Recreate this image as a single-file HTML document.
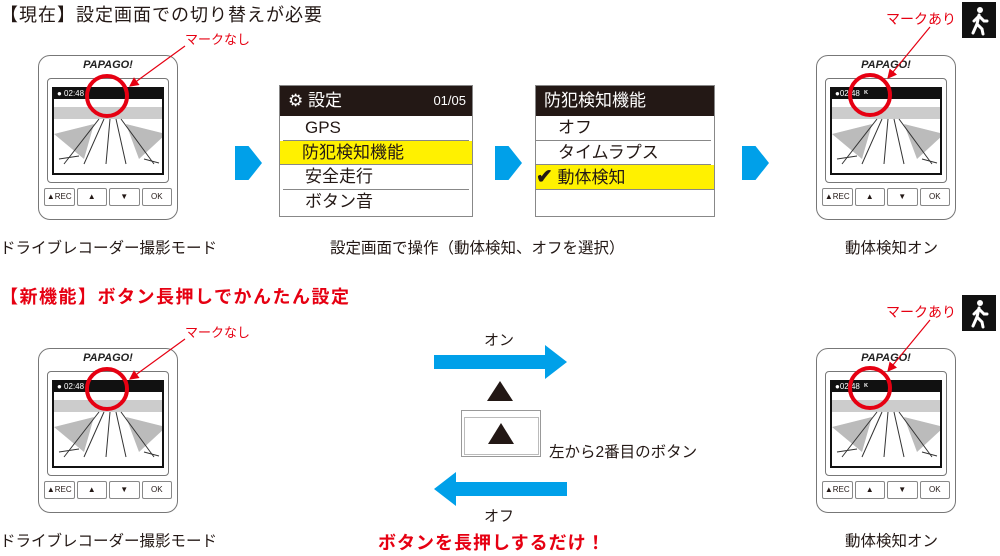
<!DOCTYPE html>
<html><head><meta charset="utf-8"><style>
*{margin:0;padding:0;box-sizing:border-box}
body{width:1000px;height:556px;background:#fff;position:relative;overflow:hidden;font-family:"Liberation Sans","Noto Sans CJK JP",sans-serif;color:#231815}
.a{position:absolute;white-space:nowrap}
.dev{position:absolute;width:140px;height:165px;border:1.5px solid #777;border-radius:12px;background:#fff}
.dev .logo{position:absolute;left:0;width:100%;top:3px;text-align:center;font:italic bold 11px "Liberation Sans",sans-serif;color:#222}
.dev .scr{position:absolute;left:8px;top:22px;width:122px;height:105px;border:1.5px solid #777;border-radius:4px}
.dev .in{position:absolute;left:4px;top:8px;width:112px;height:88px;border:2.5px solid #111;background:#fff;overflow:hidden}
.dev .bar{position:absolute;left:0;top:0;width:100%;height:10px;background:#111;color:#fff;font-size:8px;line-height:10px;padding-left:3px}
.dev .btns{position:absolute;left:5px;top:132px;width:128px;height:18px;display:flex;gap:2px}
.dev .btns div{flex:1;border:1px solid #888;border-radius:2px;font-size:8px;text-align:center;line-height:16px}
.menu{position:absolute;border:1px solid #888;background:#fff}
.menu .h{height:30px;background:#231815;color:#fff;font-size:17px;line-height:30px;padding-left:8px}
.menu .r{height:24.5px;font-size:17px;line-height:24px;padding-left:22px;border-bottom:1px solid #888;margin:0 3px}
.menu .y{background:#fff100;margin:0}
.chev{position:absolute;width:27px;height:34px;background:#00a0e9;clip-path:polygon(0 0,50% 0,100% 50%,50% 100%,0 100%)}
.wk{position:absolute;width:34px;height:36px;background:#111}
</style></head><body>

<div class="a" style="left:0;top:1px;font-size:18px;letter-spacing:1px">【現在】設定画面での切り替えが必要</div>
<div class="a" style="left:0;top:283px;font-size:18px;font-weight:bold;color:#e60012;letter-spacing:1.5px">【新機能】ボタン長押しでかんたん設定</div>

<div class="dev" style="left:38px;top:55px"><div class="logo">PAPAGO!</div><div class="scr"><div class="in"><div class="bar">● 02:48</div>
<svg width="112" height="78" style="position:absolute;top:10px;left:0"><rect x="0" y="8" width="112" height="12" fill="#ccc"/><path d="M0 35 L40 25 L30 60 Z M112 35 L72 25 L85 60 Z" fill="#bbb"/><path d="M50 20 L30 65 M56 20 L52 65 M62 20 L72 65 M45 20 L10 65 M67 20 L100 65" stroke="#333" stroke-width="1"/><path d="M5 60 L25 57 M90 60 L105 64" stroke="#333"/></svg></div></div>
<div class="btns"><div>▲REC</div><div>▲</div><div>▼</div><div>OK</div></div></div>

<div class="dev" style="left:816px;top:55px"><div class="logo">PAPAGO!</div><div class="scr"><div class="in"><div class="bar">●02:48 &nbsp;<span style="font-weight:bold">ᴷ</span></div>
<svg width="112" height="78" style="position:absolute;top:10px;left:0"><rect x="0" y="8" width="112" height="12" fill="#ccc"/><path d="M0 35 L40 25 L30 60 Z M112 35 L72 25 L85 60 Z" fill="#bbb"/><path d="M50 20 L30 65 M56 20 L52 65 M62 20 L72 65 M45 20 L10 65 M67 20 L100 65" stroke="#333" stroke-width="1"/><path d="M5 60 L25 57 M90 60 L105 64" stroke="#333"/></svg></div></div>
<div class="btns"><div>▲REC</div><div>▲</div><div>▼</div><div>OK</div></div></div>

<div class="dev" style="left:38px;top:348px"><div class="logo">PAPAGO!</div><div class="scr"><div class="in"><div class="bar">● 02:48</div>
<svg width="112" height="78" style="position:absolute;top:10px;left:0"><rect x="0" y="8" width="112" height="12" fill="#ccc"/><path d="M0 35 L40 25 L30 60 Z M112 35 L72 25 L85 60 Z" fill="#bbb"/><path d="M50 20 L30 65 M56 20 L52 65 M62 20 L72 65 M45 20 L10 65 M67 20 L100 65" stroke="#333" stroke-width="1"/><path d="M5 60 L25 57 M90 60 L105 64" stroke="#333"/></svg></div></div>
<div class="btns"><div>▲REC</div><div>▲</div><div>▼</div><div>OK</div></div></div>

<div class="dev" style="left:816px;top:348px"><div class="logo">PAPAGO!</div><div class="scr"><div class="in"><div class="bar">●02:48 &nbsp;<span style="font-weight:bold">ᴷ</span></div>
<svg width="112" height="78" style="position:absolute;top:10px;left:0"><rect x="0" y="8" width="112" height="12" fill="#ccc"/><path d="M0 35 L40 25 L30 60 Z M112 35 L72 25 L85 60 Z" fill="#bbb"/><path d="M50 20 L30 65 M56 20 L52 65 M62 20 L72 65 M45 20 L10 65 M67 20 L100 65" stroke="#333" stroke-width="1"/><path d="M5 60 L25 57 M90 60 L105 64" stroke="#333"/></svg></div></div>
<div class="btns"><div>▲REC</div><div>▲</div><div>▼</div><div>OK</div></div></div>

<svg class="a" style="left:0;top:0" width="1000" height="556">
<defs><marker id="m" markerWidth="8" markerHeight="8" refX="7" refY="4" orient="auto"><path d="M0 0 L8 4 L0 8Z" fill="#e60012"/></marker></defs>
<g fill="none" stroke="#e60012">
<circle cx="107" cy="96" r="20" stroke-width="4"/>
<circle cx="870" cy="95" r="20" stroke-width="4"/>
<circle cx="107" cy="389" r="20" stroke-width="4"/>
<circle cx="870" cy="388" r="20" stroke-width="4"/>
<line x1="185" y1="46" x2="130" y2="86" stroke-width="1.2" marker-end="url(#m)"/>
<line x1="930" y1="27" x2="888" y2="78" stroke-width="1.2" marker-end="url(#m)"/>
<line x1="185" y1="339" x2="130" y2="379" stroke-width="1.2" marker-end="url(#m)"/>
<line x1="930" y1="320" x2="888" y2="371" stroke-width="1.2" marker-end="url(#m)"/>
</g>
<path d="M434 355 H545 V345 L567 362 L545 379 V369 H434Z" fill="#00a0e9"/>
<path d="M567 482 H456 V472 L434 489 L456 506 V496 H567Z" fill="#00a0e9"/>
<path d="M487 401 L500 381 L513 401Z" fill="#231815"/>
<rect x="461.5" y="410.5" width="79" height="46" fill="#fff" stroke="#999"/>
<rect x="464.5" y="417.5" width="74" height="37" fill="none" stroke="#bbb"/>
<path d="M488 444 L501 423 L514 444Z" fill="#231815"/>
</svg>

<div class="a" style="left:185px;top:29px;font-size:13px;color:#e60012">マークなし</div>
<div class="a" style="left:185px;top:322px;font-size:13px;color:#e60012">マークなし</div>
<div class="a" style="left:886px;top:9px;font-size:14px;color:#e60012">マークあり</div>
<div class="a" style="left:886px;top:302px;font-size:14px;color:#e60012">マークあり</div>

<svg class="wk" style="left:962px;top:2px" viewBox="0 0 34 36"><rect width="34" height="36" fill="#111"/><circle cx="18" cy="8" r="3" fill="#fff"/><g stroke="#fff" stroke-width="3" stroke-linecap="round" fill="none"><path d="M17 13 L15 22 L20 27 L21 32"/><path d="M15 22 L11 31"/><path d="M17 14 L12 19 M17 14 L22 19 L25 19"/></g></svg>
<svg class="wk" style="left:962px;top:295px" viewBox="0 0 34 36"><rect width="34" height="36" fill="#111"/><circle cx="18" cy="8" r="3" fill="#fff"/><g stroke="#fff" stroke-width="3" stroke-linecap="round" fill="none"><path d="M17 13 L15 22 L20 27 L21 32"/><path d="M15 22 L11 31"/><path d="M17 14 L12 19 M17 14 L22 19 L25 19"/></g></svg>

<div class="chev" style="left:235px;top:146px"></div>
<div class="chev" style="left:495px;top:146px"></div>
<div class="chev" style="left:742px;top:146px"></div>

<div class="menu" style="left:279px;top:85px;width:194px;height:132px">
<div class="h">⚙ 設定<span style="position:absolute;right:6px;font-size:13px">01/05</span></div>
<div class="r">GPS</div><div class="r y">防犯検知機能</div><div class="r">安全走行</div><div class="r" style="border:none">ボタン音</div></div>

<div class="menu" style="left:535px;top:85px;width:180px;height:132px">
<div class="h">防犯検知機能</div>
<div class="r" style="margin-left:0">オフ</div><div class="r" style="margin-left:0">タイムラプス</div><div class="r y" style="padding-left:0"><b style="font-size:20px">✔</b> 動体検知</div></div>

<div class="a" style="left:0;top:236px;font-size:15.5px">ドライブレコーダー撮影モード</div>
<div class="a" style="left:330px;top:236px;font-size:15.5px">設定画面で操作（動体検知、オフを選択）</div>
<div class="a" style="left:845px;top:236px;font-size:15.5px">動体検知オン</div>
<div class="a" style="left:0;top:529px;font-size:15.5px">ドライブレコーダー撮影モード</div>
<div class="a" style="left:845px;top:529px;font-size:15.5px">動体検知オン</div>
<div class="a" style="left:484px;top:329px;font-size:15px">オン</div>
<div class="a" style="left:484px;top:505px;font-size:15px">オフ</div>
<div class="a" style="left:549px;top:440px;font-size:15.5px">左から2番目のボタン</div>
<div class="a" style="left:378px;top:529px;font-size:18px;font-weight:bold;color:#e60012;letter-spacing:1px">ボタンを長押しするだけ！</div>
</body></html>
